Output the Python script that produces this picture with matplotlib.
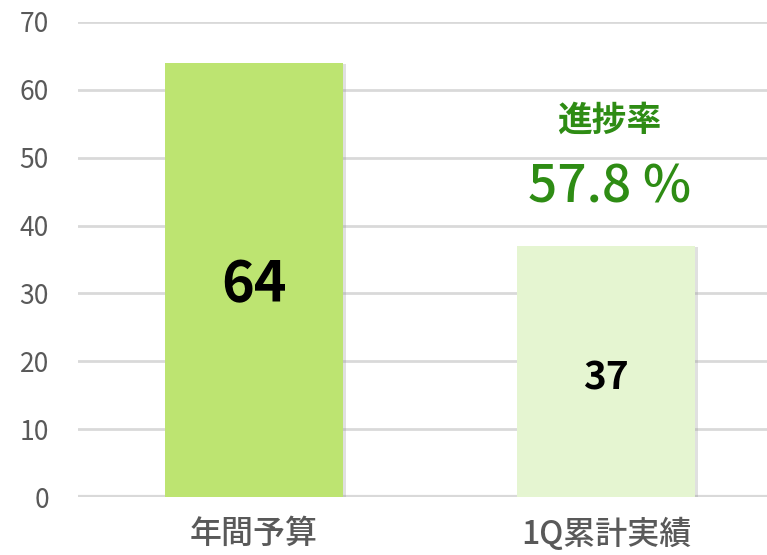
import matplotlib
matplotlib.use("Agg")
import matplotlib.pyplot as plt
import matplotlib.patheffects as pe

plt.rcParams['font.family'] = ['Noto Sans CJK JP', 'DejaVu Sans']

categories = ["年間予算", "1Q累計実績"]
values = [64, 37]
bar_colors = ["#bde471", "#e5f5d1"]
label_sizes = [40, 28]
label_offsets = [-0.8, -1.0]
progress_title = "進捗率"
progress_text = "57.8 %"
yticks = [0, 10, 20, 30, 40, 50, 60, 70]

fig = plt.figure(figsize=(7.67, 5.55), dpi=100)
ax = fig.add_axes([78/767, 58/555, 704/767, 475/555])

x = list(range(len(categories)))
bars = ax.bar(x, values, width=0.506, color=bar_colors, zorder=3)
for b in bars:
    b.set_path_effects([pe.SimplePatchShadow(offset=(2, -1), shadow_rgbFace='#999999', alpha=0.3), pe.Normal()])

for xi, v, fs, off in zip(x, values, label_sizes, label_offsets):
    ax.text(xi, v / 2 + off, str(v), ha='center', va='center', fontsize=fs,
            fontweight='bold', color='black', zorder=4)

ax.text(1.01, 55.6, progress_title, ha='center', va='center', fontsize=25,
        fontweight='bold', color='#2e8c14', zorder=4)
ax.text(1.01, 45.6, progress_text, ha='center', va='center', fontsize=37,
        fontweight='medium', color='#2e8c14', zorder=4)

ax.set_xlim(-0.5, 1.5)
ax.set_ylim(0, 70)
ax.set_yticks(yticks)
ax.set_yticklabels([str(t) for t in yticks], fontsize=19, color='#595959')
ax.set_xticks(x)
ax.set_xticklabels(categories, fontsize=23, color='#595959', fontweight='medium')
ax.tick_params(axis='y', length=0, pad=21)
ax.tick_params(axis='x', length=0, pad=15)
ax.grid(axis='y', color='#d9d9d9', linewidth=2, zorder=0)
for s in ax.spines.values():
    s.set_visible(False)
ax.axhline(0, color='#d9d9d9', linewidth=3, zorder=2)

fig.savefig("out.png", dpi=100)
